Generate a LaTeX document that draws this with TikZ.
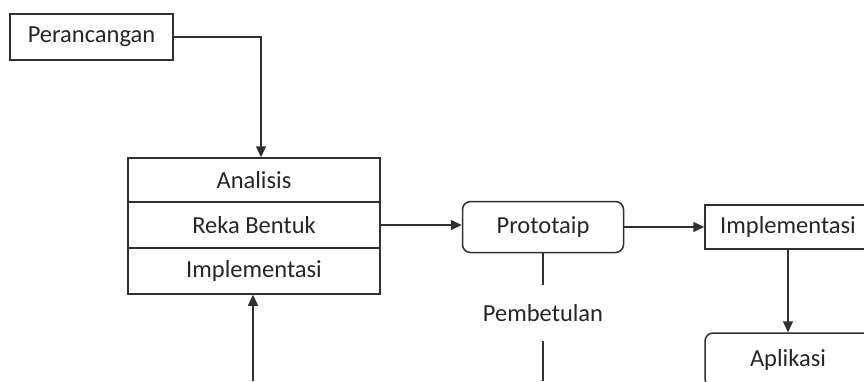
\documentclass[tikz,border=0pt]{standalone}
\usepackage{fontspec}
\setmainfont{Carlito}
\usetikzlibrary{arrows.meta}
\definecolor{ln}{HTML}{303030}
\definecolor{tx}{HTML}{262626}
\tikzset{
  box/.style={draw=ln, line width=1.5pt, inner sep=0pt, text=tx, font=\fontsize{24.5}{28}\selectfont},
  rbox/.style={box, rounded corners=8pt},
  lbl/.style={inner sep=0pt, text=tx, font=\fontsize{24.5}{28}\selectfont},
  conn/.style={draw=ln, line width=1.5pt},
  arr/.style={conn, -{Triangle[length=11pt,width=10pt]}}
}
\begin{document}
\begin{tikzpicture}[x=1pt,y=-1pt]
\clip (0,0) rectangle (864,381);
\fill[white] (0,0) rectangle (864,381);
\node[box, minimum width=163, minimum height=46] (per) at (91.5,37) {Perancangan};
\node[box, minimum width=252, minimum height=44] (ana) at (254,180) {Analisis};
\node[box, minimum width=252, minimum height=46] (reka) at (254,225) {Reka Bentuk};
\node[box, minimum width=252, minimum height=46] (imp1) at (254,271) {Implementasi};
\node[rbox, minimum width=161, minimum height=51] (proto) at (543,227) {Prototaip};
\node[box, minimum width=166, minimum height=44] (imp2) at (788,227) {Implementasi};
\node[rbox, minimum width=166, minimum height=54] (apl) at (788,360) {Aplikasi};
\node[lbl, minimum height=55] (pem) at (543,313) {Pembetulan};
\coordinate (b1) at (253,381);
\coordinate (b2) at (543,381);
\draw[arr] (per.east) -| ([xshift=7pt]ana.north);
\draw[arr] (b1) -- (b1 |- imp1.south);
\draw[arr] (reka.east) -- (reka.east -| proto.west);
\draw[arr] (proto.east) -- (imp2.west);
\draw[arr] (imp2.south) -- (apl.north);
\draw[conn] (proto.south) -- (pem.north);
\draw[conn] (pem.south) -- (b2);
\end{tikzpicture}
\end{document}
